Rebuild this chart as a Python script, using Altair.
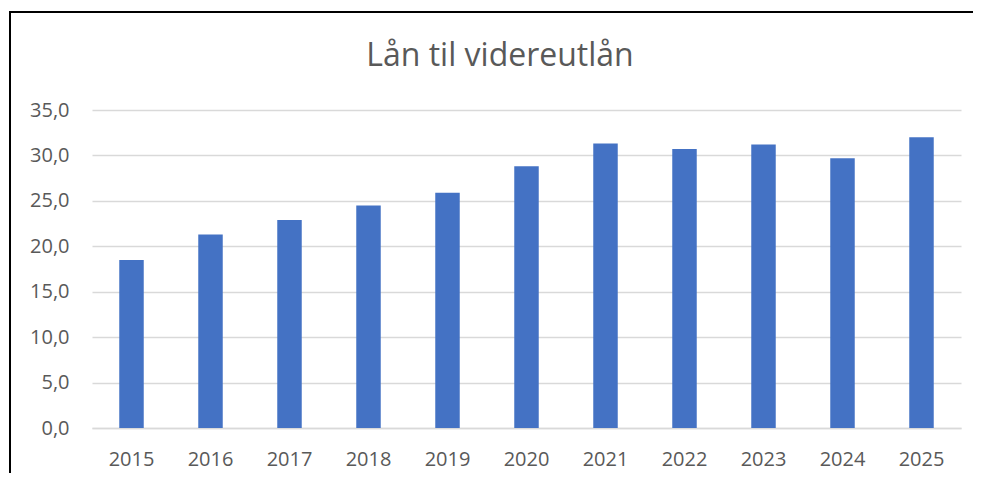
import altair as alt
import pandas as pd

years = ["2015", "2016", "2017", "2018", "2019", "2020", "2021", "2022", "2023", "2024", "2025"]
values = [18.5, 21.3, 22.9, 24.5, 25.9, 28.8, 31.3, 30.7, 31.2, 29.7, 32.0]
y_ticks = [0, 5, 10, 15, 20, 25, 30, 35]
title_text = "Lån til videreutlån"

df = pd.DataFrame({"year": years, "value": values})
title_df = pd.DataFrame({"t": [title_text]})

FONT = "Open Sans"
GREY = "#595959"

bars = alt.Chart(df).mark_bar(color="#4472c4").encode(
    x=alt.X("year:N", sort=years,
            scale=alt.Scale(paddingInner=0.69, paddingOuter=0.345),
            axis=alt.Axis(title=None, labelAngle=0, labelFont=FONT, labelFontSize=20,
                          labelColor=GREY, labelPadding=21, ticks=False,
                          domainColor="#d9d9d9", domainWidth=1.3)),
    y=alt.Y("value:Q", scale=alt.Scale(domain=[0, 35], nice=False),
            axis=alt.Axis(title=None, values=y_ticks,
                          labelExpr="replace(format(datum.value, '.1f'), '.', ',')",
                          labelFont=FONT, labelFontSize=20, labelColor=GREY,
                          labelPadding=23, ticks=False, domain=False,
                          gridColor="#d9d9d9", gridWidth=1.3)),
)

title = alt.Chart(title_df).mark_text(
    font=FONT, fontSize=32, color=GREY, align="center", baseline="alphabetic"
).encode(text="t:N", x=alt.value(408), y=alt.value(-44))

frame = alt.Chart(title_df).mark_rect(fill=None, stroke="black", strokeWidth=2).encode(
    x=alt.value(-82), x2=alt.value(1000), y=alt.value(-98), y2=alt.value(600)
)

chart = alt.layer(bars, title, frame).properties(
    width=869, height=318,
    background="white",
    autosize=alt.AutoSizeParams(type="none"),
    padding={"left": 84, "top": 102, "right": 12, "bottom": 45},
).configure_view(stroke=None)

chart.save("out.html", embed_options={"renderer": "svg", "actions": False})
